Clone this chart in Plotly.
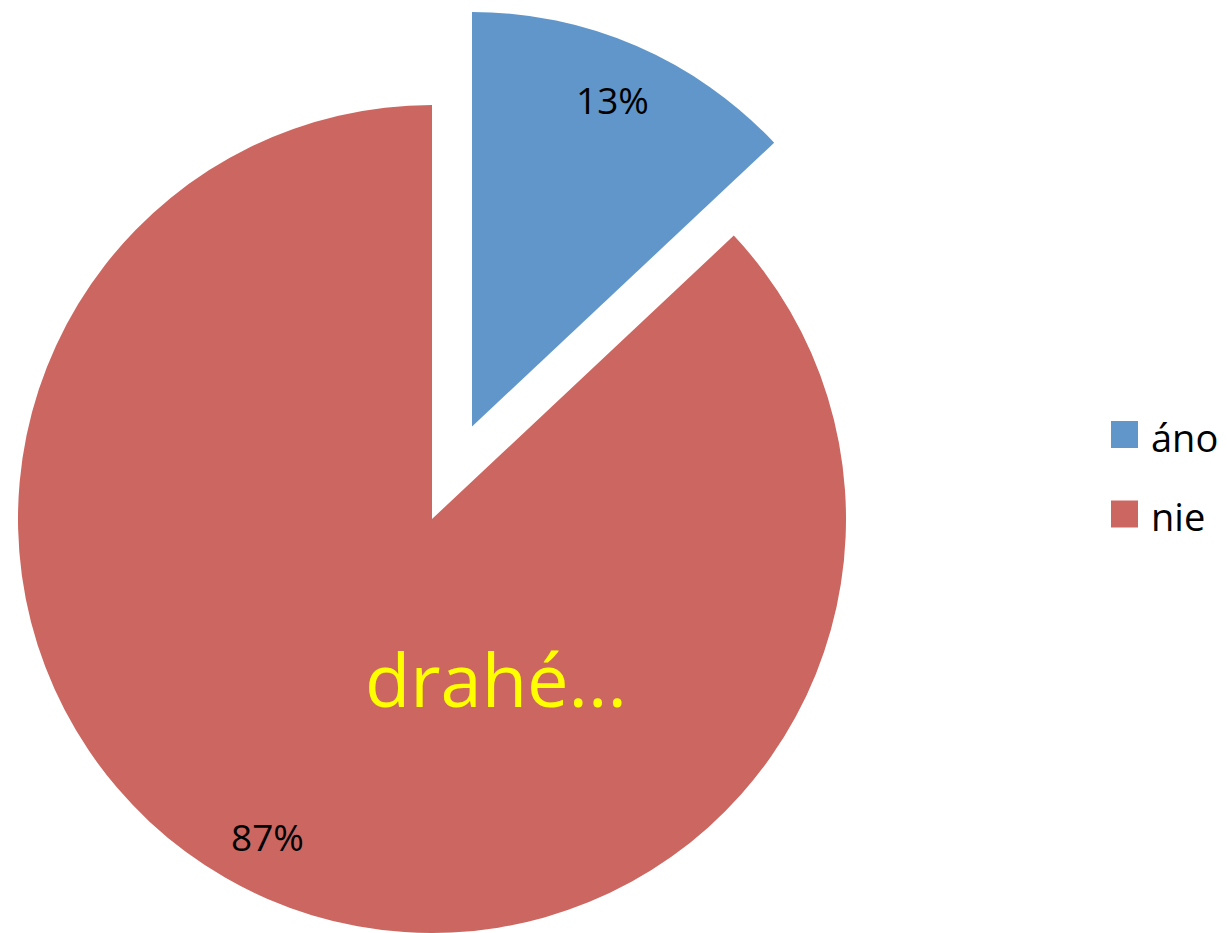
import plotly.graph_objects as go

labels = ["áno", "nie"]
values = [13, 87]
colors = ["#6096C9", "#CC6660"]
note_text = "drahé..."

# browser body margin (default 8px) shifts the figure; work in page pixels
OFF = 8
W, H = 1227 - OFF, 933 - OFF
FONT = "Open Sans"

# pie geometry in page pixels (centre and radius); the exploded slice is offset
R = 414.5
CX, CY = 432, 519.5
DX, DY = 40, -93

# percentage label positions (page pixels) for each slice
label_pos = [(612, 99), (267, 836)]


def px(x):
    return (x - OFF) / W


def py(y):
    return (H - (y - OFF)) / H


def dom(cx, cy, r):
    x0, x1 = px(cx - r), px(cx + r)
    y0, y1 = py(cy + r), py(cy - r)
    return dict(x=[max(0, x0), min(1, x1)], y=[max(0, y0), min(1, y1)])


fig = go.Figure()

# exploded slice (áno)
fig.add_trace(go.Pie(
    labels=labels, values=values, sort=False, direction="clockwise", rotation=0,
    marker=dict(colors=[colors[0], "rgba(0,0,0,0)"], line=dict(width=0)),
    textinfo="none",
    domain=dom(CX + DX, CY + DY, R), showlegend=False, hoverinfo="label+percent",
))
# main slice (nie)
fig.add_trace(go.Pie(
    labels=labels, values=values, sort=False, direction="clockwise", rotation=0,
    marker=dict(colors=["rgba(0,0,0,0)", colors[1]], line=dict(width=0)),
    textinfo="none",
    domain=dom(CX, CY, R), showlegend=False, hoverinfo="label+percent",
))

annotations = []
total = sum(values)
for (lx, ly), v in zip(label_pos, values):
    annotations.append(dict(text=f"{round(100 * v / total)}%", xref="paper", yref="paper",
                            x=px(lx), y=py(ly), xanchor="center", yanchor="middle",
                            showarrow=False,
                            font=dict(family=FONT, size=37, color="black")))

# legend drawn as squares + text
sq = 27
leg_x = 1111
leg_centers = [434.5, 514]
text_y = [437, 516]
shapes = []
for i, lab in enumerate(labels):
    cy = leg_centers[i]
    shapes.append(dict(type="rect", xref="paper", yref="paper",
                       x0=px(leg_x), x1=px(leg_x + sq),
                       y0=py(cy + sq / 2), y1=py(cy - sq / 2),
                       fillcolor=colors[i], line=dict(width=0)))
    annotations.append(dict(text=lab, xref="paper", yref="paper",
                            x=px(1149), y=py(text_y[i]),
                            xanchor="left", yanchor="middle", showarrow=False,
                            font=dict(family=FONT, size=38, color="black")))

annotations.append(dict(text=note_text, xref="paper", yref="paper",
                        x=px(496), y=py(679), xanchor="center", yanchor="middle",
                        showarrow=False, font=dict(family=FONT, size=74, color="#FFFF00")))

fig.update_layout(
    width=W, height=H, margin=dict(l=0, r=0, t=0, b=0),
    paper_bgcolor="white", plot_bgcolor="white",
    shapes=shapes, annotations=annotations, showlegend=False,
)

fig.write_html("out.html")
